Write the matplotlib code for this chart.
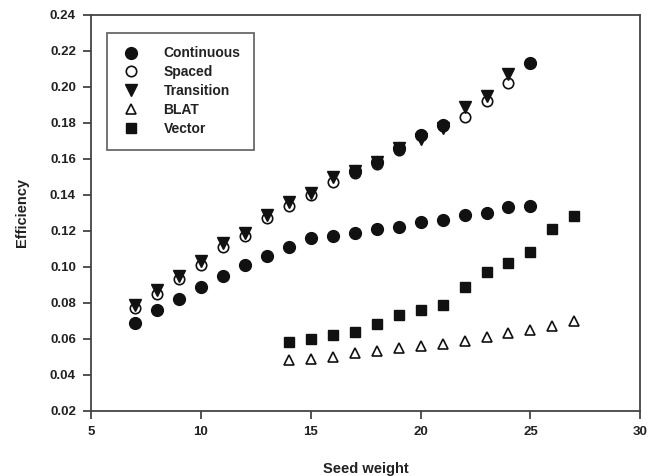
import numpy as np
import matplotlib.pyplot as plt

plt.rcParams['font.family'] = ['Liberation Sans', 'DejaVu Sans']

# seed weights
w_cont = np.arange(7, 26)
w_upper = [17, 18, 19, 20, 21, 25]
w_sp = np.arange(7, 25)
w_blat = np.arange(14, 28)
w_vec = np.arange(14, 28)

continuous = [0.069, 0.076, 0.082, 0.089, 0.095, 0.101, 0.106, 0.111, 0.116, 0.117,
              0.119, 0.121, 0.122, 0.125, 0.126, 0.129, 0.130, 0.133, 0.134]
# filled circles lying on the upper curve (no legend entry in the original)
continuous_upper = [0.153, 0.158, 0.166, 0.173, 0.179, 0.213]
spaced = [0.077, 0.085, 0.093, 0.101, 0.111, 0.117, 0.127, 0.134, 0.140, 0.147,
          0.152, 0.157, 0.165, 0.173, 0.178, 0.183, 0.192, 0.202]
transition = [0.079, 0.087, 0.095, 0.103, 0.113, 0.119, 0.129, 0.136, 0.141, 0.150,
              0.153, 0.158, 0.166, 0.171, 0.177, 0.189, 0.195, 0.207]
blat = [0.048, 0.049, 0.050, 0.052, 0.053, 0.055, 0.056, 0.057, 0.059, 0.061,
        0.063, 0.065, 0.067, 0.070]
vector = [0.058, 0.060, 0.062, 0.064, 0.068, 0.073, 0.076, 0.079, 0.089, 0.097,
          0.102, 0.108, 0.121, 0.128]

fig = plt.figure(figsize=(6.56, 4.76), dpi=100)
ax = fig.add_axes([0.139, 0.137, 0.837, 0.832])

k = '#111111'
ax.plot(w_cont, continuous, 'o', color=k, ms=8.5, label='Continuous')
ax.plot(w_sp, spaced, 'o', mfc='white', mec=k, mew=1.2, ms=7.5, label='Spaced')
ax.plot(w_sp, transition, 'v', color=k, ms=8, label='Transition')
ax.plot(w_blat, blat, '^', mfc='white', mec=k, mew=1.2, ms=7, label='BLAT')
ax.plot(w_vec, vector, 's', color=k, ms=7.5, label='Vector')
ax.plot(w_upper, continuous_upper, 'o', color=k, ms=8.5)

ax.set_xlim(5, 30)
ax.set_ylim(0.02, 0.24)
ax.set_xticks(np.arange(5, 31, 5))
ax.set_yticks(np.arange(0.02, 0.2401, 0.02))
ax.set_yticklabels(['%.2f' % v for v in np.arange(0.02, 0.2401, 0.02)])

for s in ax.spines.values():
    s.set_color('#444444')
    s.set_linewidth(1.3)
ax.tick_params(direction='out', length=6, width=1.3, color='#444444',
               labelsize=9.5, labelcolor='#222222', pad=5)
for lab in ax.get_xticklabels() + ax.get_yticklabels():
    lab.set_fontweight('bold')

ax.set_xlabel('Seed weight', fontsize=10.5, fontweight='bold', color='#222222', labelpad=17)
ax.set_ylabel('Efficiency', fontsize=10.5, fontweight='bold', color='#222222', labelpad=15)

leg = ax.legend(loc='upper left', bbox_to_anchor=(0.028, 0.955), frameon=True,
                fancybox=False, edgecolor='#444444', fontsize=10, handletextpad=1.6,
                borderpad=1.0, labelspacing=0.35, borderaxespad=0, handlelength=1.5)
leg.get_frame().set_linewidth(1.3)
for t in leg.get_texts():
    t.set_fontweight('bold')
    t.set_color('#222222')

fig.savefig('out.png', dpi=100)
